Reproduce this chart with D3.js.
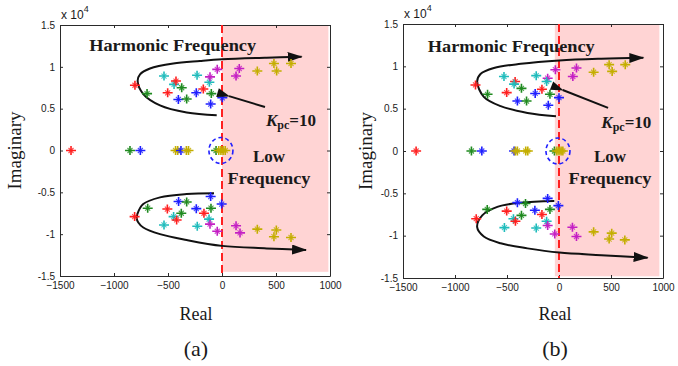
<!DOCTYPE html>
<html>
<head>
<meta charset="utf-8">
<script src="https://cdn.jsdelivr.net/npm/d3@7"></script>
<style>
  body { margin: 0; background: #fff; }
  text { fill: #1a1a1a; }
</style>
</head>
<body>
<svg id="chart" width="678" height="366"></svg>
<script>
// axis ticks
const xTicks = [-1500, -1000, -500, 0, 500, 1000];
const yTicks = [-1.5, -1, -0.5, 0, 0.5, 1, 1.5];
const yTickLabels = ["-1.5", "-1", "-0.5", "0", "0.5", "1", "1.5"];

const colors = { r: "#ff1f1f", g: "#1f8a1f", b: "#1f1fff", c: "#1fbcbc", m: "#c41fc4", y: "#c4ae00" };

// closed-loop poles, panel (a): [real, imag (x1e4), colour]
const polesA = [
  [-806, 0.78, "r"], [-694, 0.68, "g"], [-537, 0.89, "c"], [-444, 0.79, "c"], [-426, 0.83, "r"],
  [-503, 0.69, "r"], [-373, 0.75, "g"], [-404, 0.61, "b"], [-327, 0.615, "g"], [-231, 0.90, "c"],
  [-238, 0.69, "b"], [-173, 0.735, "r"], [-117, 0.815, "c"], [-111, 0.88, "m"], [-99, 0.68, "g"],
  [-105, 0.555, "b"], [-44, 0.97, "m"], [3, 0.63, "b"], [130, 0.89, "m"], [160, 0.98, "m"],
  [327, 0.95, "y"], [481, 1.04, "y"], [506, 0.95, "y"], [639, 1.04, "y"],
  [-105, -0.55, "b"], [-402, -0.61, "b"], [-327, -0.615, "g"], [-102, -0.69, "g"], [-3, -0.64, "b"],
  [-688, -0.69, "g"], [-506, -0.70, "r"], [-238, -0.695, "b"], [-377, -0.75, "g"], [-167, -0.75, "r"],
  [-809, -0.79, "r"], [-448, -0.79, "c"], [-420, -0.83, "r"], [-120, -0.82, "c"], [-537, -0.89, "c"],
  [-229, -0.905, "c"], [-111, -0.88, "m"], [-44, -0.965, "m"], [130, -0.90, "m"], [167, -0.985, "m"],
  [327, -0.94, "y"], [503, -0.95, "y"], [481, -1.03, "y"], [639, -1.04, "y"],
  [-1398, 0, "r"], [-852, 0, "g"], [-756, 0, "b"], [-430, 0, "y"], [-410, 0, "y"], [-380, 0, "b"],
  [-330, 0, "y"], [-310, 0, "y"], [-55, 0, "g"], [-30, 0, "y"], [-10, 0, "y"], [10, 0, "y"], [30, 0, "y"]
];

// closed-loop poles, panel (b)
const polesB = [
  [-803, 0.78, "r"], [-687, 0.67, "g"], [-529, 0.88, "c"], [-422, 0.82, "r"], [-432, 0.79, "c"],
  [-503, 0.69, "r"], [-361, 0.74, "g"], [-400, 0.59, "b"], [-312, 0.59, "g"], [-219, 0.89, "c"],
  [-229, 0.68, "b"], [-164, 0.73, "r"], [-109, 0.86, "m"], [-119, 0.82, "c"], [-87, 0.67, "g"],
  [-103, 0.54, "b"], [-35, 0.96, "m"], [0, 0.63, "b"], [133, 0.88, "m"], [168, 0.98, "m"],
  [333, 0.93, "y"], [482, 1.02, "y"], [511, 0.94, "y"], [637, 1.02, "y"],
  [-109, -0.56, "b"], [-400, -0.61, "b"], [-322, -0.62, "g"], [-6, -0.645, "b"], [-690, -0.69, "g"],
  [-503, -0.71, "r"], [-232, -0.70, "b"], [-87, -0.69, "g"], [-164, -0.75, "r"], [-361, -0.76, "g"],
  [-796, -0.80, "r"], [-438, -0.80, "c"], [-419, -0.83, "r"], [-119, -0.83, "c"], [-109, -0.88, "m"],
  [-525, -0.905, "c"], [-219, -0.91, "c"], [-41, -0.98, "m"], [129, -0.90, "m"], [168, -1.01, "m"],
  [333, -0.955, "y"], [507, -0.97, "y"], [482, -1.04, "y"], [633, -1.05, "y"],
  [-1374, 0, "r"], [-842, 0, "g"], [-742, 0, "b"], [-432, 0, "b"], [-420, 0, "y"], [-400, 0, "y"],
  [-320, 0, "y"], [-300, 0, "y"], [-44, 0, "g"], [-20, 0, "y"], [0, 0, "y"], [20, 0, "y"], [37, 0, "y"]
];

// trajectory arrows (annotation), [real, imag]
const upperPathA = [[-49, 0.42], [-327, 0.455], [-574, 0.54], [-729, 0.675], [-781, 0.83], [-759, 0.91],
  [-667, 0.98], [-451, 1.04], [-204, 1.07], [0, 1.09], [413, 1.11], [737, 1.12]];
const lowerPathA = [[-74, -0.51], [-327, -0.52], [-574, -0.56], [-729, -0.64], [-784, -0.76], [-790, -0.81],
  [-775, -0.86], [-729, -0.92], [-574, -1.0], [-327, -1.07], [0, -1.14], [413, -1.17], [778, -1.19]];
const upperPathB = [[-29, 0.41], [-303, 0.45], [-561, 0.53], [-723, 0.64], [-787, 0.82], [-755, 0.91],
  [-626, 0.98], [-367, 1.03], [3, 1.07], [407, 1.09], [811, 1.10]];
const lowerPathB = [[-45, -0.59], [-367, -0.61], [-593, -0.66], [-738, -0.76], [-787, -0.90], [-723, -1.01],
  [-561, -1.09], [-303, -1.15], [3, -1.20], [407, -1.23], [852, -1.26]];

const panels = [
  { left: 60, right: 330, top: 25, bottom: 276, poles: polesA, upper: upperPathA, lower: lowerPathA,
    pink: [0, 985, 1.5, -1.45], kArrow: [[398, 0.52], [65, 0.65]], kText: [407, 0.29],
    hText: [-1230, 1.19], lowX: 435, ylabX: 15, xlabX: 196, tag: "(a)" },
  { left: 403, right: 663, top: 24, bottom: 278, poles: polesB, upper: upperPathB, lower: lowerPathB,
    pink: [-40, 965, 1.5, -1.48], kArrow: [[472, 0.51], [36, 0.72]], kText: [407, 0.27],
    hText: [-1262, 1.17], lowX: 490, ylabX: 366, xlabX: 555, tag: "(b)" }
];

const svg = d3.select("#chart");
const defs = svg.append("defs");
defs.append("marker").attr("id", "bigArrow")
  .attr("markerUnits", "userSpaceOnUse").attr("markerWidth", 16).attr("markerHeight", 12)
  .attr("refX", 14).attr("refY", 5).attr("orient", "auto")
  .append("path").attr("d", "M0,0 L15,5 L0,10 Z").attr("fill", "#111");
defs.append("marker").attr("id", "kArrow")
  .attr("markerUnits", "userSpaceOnUse").attr("markerWidth", 14).attr("markerHeight", 10)
  .attr("refX", 1).attr("refY", 4.5).attr("orient", "auto")
  .append("path").attr("d", "M13,0 L0,4.5 L13,9 Z").attr("fill", "#111");

// MATLAB-like '*' marker drawn over a '+'
const plusPart = "M-5,0H5M0,-4.5V4.5";
const crossPart = "M-2.5,-2.5L2.5,2.5M-2.5,2.5L2.5,-2.5";

panels.forEach(p => {
  const g = svg.append("g");
  const x = d3.scaleLinear().domain([-1500, 1000]).range([p.left, p.right]);
  const y = d3.scaleLinear().domain([-1.5, 1.5]).range([p.bottom, p.top]);

  // shaded unstable region
  g.append("rect")
    .attr("x", x(p.pink[0])).attr("y", y(p.pink[2]))
    .attr("width", x(p.pink[1]) - x(p.pink[0])).attr("height", y(p.pink[3]) - y(p.pink[2]))
    .attr("fill", "#ffd4d4");

  // box + inward ticks on all sides
  const ax = g.append("g").attr("font-family", "'Liberation Sans', Arial, sans-serif").attr("font-size", 12);
  ax.append("g").attr("transform", `translate(0,${p.bottom})`)
    .call(d3.axisBottom(x).tickValues(xTicks).tickSizeInner(-3).tickSizeOuter(0).tickPadding(6).tickFormat(d3.format("d")));
  ax.append("g").attr("transform", `translate(0,${p.top})`)
    .call(d3.axisTop(x).tickValues(xTicks).tickSizeInner(-3).tickSizeOuter(0).tickFormat(""));
  ax.append("g").attr("transform", `translate(${p.left},0)`)
    .call(d3.axisLeft(y).tickValues(yTicks).tickSizeInner(-3).tickSizeOuter(0).tickPadding(5)
      .tickFormat((d, i) => yTickLabels[i]));
  ax.append("g").attr("transform", `translate(${p.right},0)`)
    .call(d3.axisRight(y).tickValues(yTicks).tickSizeInner(-3).tickSizeOuter(0).tickFormat(""));
  ax.selectAll(".domain").attr("stroke", "#2a2a2a");
  ax.selectAll(".tick line").attr("stroke", "#2a2a2a");
  ax.selectAll(".tick text").attr("fill", "#111");

  // x 10^4
  const ex = g.append("text").attr("x", p.left + 1).attr("y", p.top - 6)
    .attr("font-family", "'Liberation Sans', Arial, sans-serif").attr("font-size", 12);
  ex.append("tspan").text("x 10");
  ex.append("tspan").attr("font-size", 9).attr("dy", -7).text("4");

  // stability boundary
  g.append("line")
    .attr("x1", x(0)).attr("x2", x(0)).attr("y1", p.top).attr("y2", p.bottom)
    .attr("stroke", "#ff2020").attr("stroke-width", 2).attr("stroke-dasharray", "8,4");

  // trajectory arrows
  const line = d3.line().x(d => x(d[0])).y(d => y(d[1])).curve(d3.curveCatmullRom);
  [p.upper, p.lower].forEach(path => {
    g.append("path").attr("d", line(path)).attr("fill", "none")
      .attr("stroke", "#111").attr("stroke-width", 2).attr("marker-end", "url(#bigArrow)");
  });

  // poles
  const pg = g.append("g").selectAll("g").data(p.poles).join("g")
    .attr("transform", d => `translate(${x(d[0])},${y(d[1])})`)
    .attr("fill", "none").attr("stroke", d => colors[d[2]]);
  pg.append("path").attr("d", plusPart).attr("stroke-width", 1.6);
  pg.append("path").attr("d", crossPart).attr("stroke-width", 1.1).attr("stroke-opacity", 0.8);

  // low-frequency circle
  g.append("ellipse").attr("cx", x(-10)).attr("cy", y(0)).attr("rx", 12).attr("ry", 13)
    .attr("fill", "none").attr("stroke", "#1f1fff").attr("stroke-width", 1.6).attr("stroke-dasharray", "4,3");

  // K_pc arrow
  g.append("line")
    .attr("x1", x(p.kArrow[0][0])).attr("y1", y(p.kArrow[0][1]))
    .attr("x2", x(p.kArrow[1][0])).attr("y2", y(p.kArrow[1][1]))
    .attr("stroke", "#111").attr("stroke-width", 2).attr("marker-end", "url(#kArrow)");

  const serif = "'Liberation Serif', 'Times New Roman', serif";
  const kt = g.append("text").attr("x", x(p.kText[0])).attr("y", y(p.kText[1]))
    .attr("font-family", serif).attr("font-weight", "bold").attr("font-size", 17).attr("fill", "#2a1408");
  kt.append("tspan").attr("font-style", "italic").text("K");
  kt.append("tspan").attr("font-size", 12).attr("dy", 3).text("pc");
  kt.append("tspan").attr("dy", -3).text("=10");

  g.append("text").attr("x", x(p.hText[0])).attr("y", y(p.hText[1]))
    .attr("font-family", serif).attr("font-weight", "bold").attr("font-size", 17)
    .attr("textLength", 167).attr("lengthAdjust", "spacingAndGlyphs")
    .attr("fill", "#2a1408").text("Harmonic Frequency");

  g.append("text").attr("x", x(p.lowX)).attr("y", 162).attr("text-anchor", "middle")
    .attr("font-family", serif).attr("font-weight", "bold").attr("font-size", 17)
    .attr("fill", "#2a1408").text("Low");
  g.append("text").attr("x", x(p.lowX)).attr("y", 184).attr("text-anchor", "middle")
    .attr("font-family", serif).attr("font-weight", "bold").attr("font-size", 17)
    .attr("textLength", 83).attr("lengthAdjust", "spacingAndGlyphs")
    .attr("fill", "#2a1408").text("Frequency");

  // axis titles and panel tag
  g.append("text").attr("transform", `translate(${p.ylabX + 6},${(p.top + p.bottom) / 2}) rotate(-90)`)
    .attr("text-anchor", "middle").attr("font-family", serif).attr("font-size", 19).text("Imaginary");
  g.append("text").attr("x", p.xlabX).attr("y", 320).attr("text-anchor", "middle")
    .attr("font-family", serif).attr("font-size", 18).text("Real");
  g.append("text").attr("x", p.xlabX).attr("y", 356).attr("text-anchor", "middle")
    .attr("font-family", serif).attr("font-size", 22).text(p.tag);
});
</script>
</body>
</html>
